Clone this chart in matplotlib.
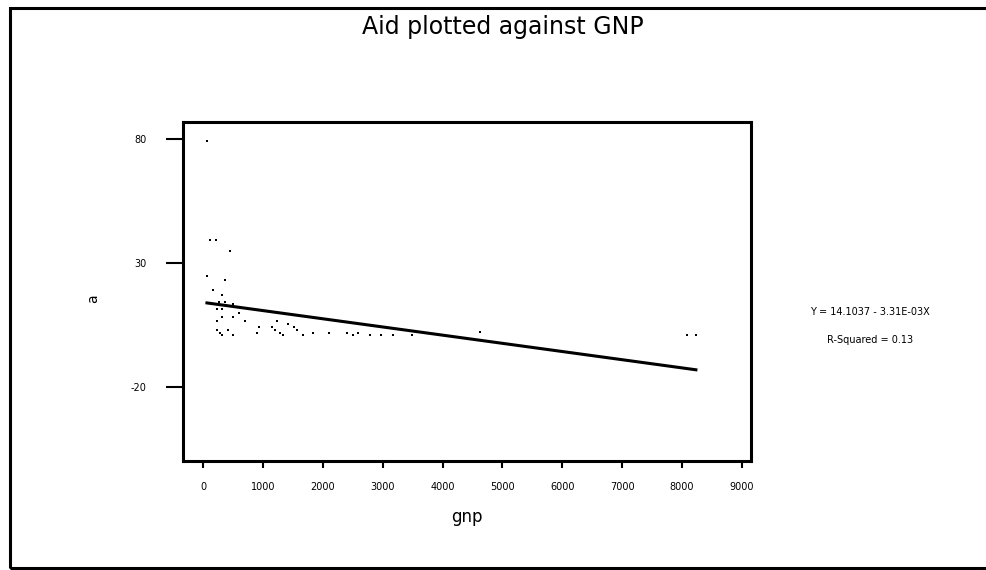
import matplotlib
matplotlib.use("Agg")
import matplotlib.pyplot as plt
import numpy as np
from matplotlib.patches import Rectangle

plt.rcParams["axes.unicode_minus"] = False

# aid vs gnp values
gnp = [67, 117, 217, 450, 67, 367, 167, 317, 267, 367, 500, 234, 317,
       317, 500, 600, 234, 700, 1235, 1420, 935, 1150, 1520, 234, 417,
       1200, 1570, 284, 900, 1285, 1835, 2100, 2400, 2585, 317, 500,
       1335, 1670, 2500, 2785, 2970, 3170, 3490, 4620, 8080, 8230]
aid = [79.2, 39.3, 39.3, 34.8, 24.8, 23.1, 19.1, 17.1, 14.3, 14.3, 13.5,
       11.5, 11.5, 8.2, 8.2, 9.8, 6.6, 6.6, 6.6, 5.4, 4.2, 4.2, 4.2, 3.0,
       3.0, 3.0, 3.0, 1.8, 1.8, 1.8, 1.8, 1.8, 1.8, 1.8, 1.0, 1.0, 1.0,
       1.0, 1.0, 1.0, 1.0, 1.0, 1.0, 2.2, 1.0, 1.0]

intercept = 14.1037
slope = -3.31e-3
eq_text = "Y = 14.1037 - 3.31E-03X"
r2_text = "R-Squared = 0.13"

xticks = [0, 1000, 2000, 3000, 4000, 5000, 6000, 7000, 8000, 9000]
yticks = [-20, 30, 80]

fig = plt.figure(figsize=(9.87, 5.70), dpi=100)
fig.patches.append(Rectangle((10/987, 2/570), 1.2, 560/570, transform=fig.transFigure,
                             fill=False, lw=2.2, ec="black"))

ax = fig.add_axes([183/987, 1-461/570, 568/987, 339/570])
ax.scatter(gnp, aid, s=4, marker="s", c="black", linewidths=0)
xs = np.array([min(gnp), max(gnp)])
ax.plot(xs, intercept + slope*xs, color="black", lw=2.2)

ax.set_xlim(-333, 9150)
ax.set_ylim(-50, 87)
ax.set_xticks(xticks)
ax.set_yticks(yticks)
ax.tick_params(axis="x", length=5, width=1.5, labelsize=7, pad=10)
ax.tick_params(axis="y", length=12, width=1.5, labelsize=7, pad=14)
for s in ax.spines.values():
    s.set_linewidth(2.2)

ax.set_xlabel("gnp", fontsize=12, labelpad=12)
fig.text(93/987, 1-299/570, "a", rotation=90, ha="center", va="center", fontsize=10)

fig.text(503/987, 1-27/570, "Aid plotted against GNP", ha="center", va="center", fontsize=17)
fig.text(870/987, 1-312/570, eq_text, ha="center", va="center", fontsize=7)
fig.text(870/987, 1-340/570, r2_text, ha="center", va="center", fontsize=7)

fig.savefig("out.png", dpi=100, facecolor="white")
